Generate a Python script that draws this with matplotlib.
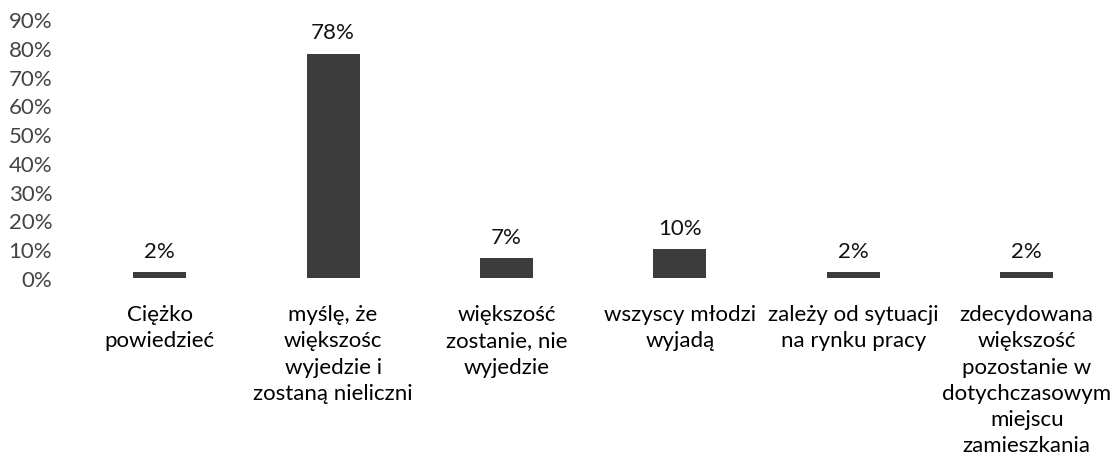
import numpy as np
import matplotlib
matplotlib.use("Agg")
import matplotlib.pyplot as plt
from matplotlib.ticker import FuncFormatter

# data
categories = [
    "Ciężko\npowiedzieć",
    "myślę, że\nwiększośc\nwyjedzie i\nzostaną nieliczni",
    "większość\nzostanie, nie\nwyjedzie",
    "wszyscy młodzi\nwyjadą",
    "zależy od sytuacji\nna rynku pracy",
    "zdecydowana\nwiększość\npozostanie w\ndotychczasowym\nmiejscu\nzamieszkania",
]
values = [2, 78, 7, 10, 2, 2]
value_labels = ["2%", "78%", "7%", "10%", "2%", "2%"]
yticks = list(range(0, 100, 10))

plt.rcParams['font.family'] = ['Lato', 'DejaVu Sans']
FS = 16

fig = plt.figure(figsize=(11.1, 4.56), dpi=100)
ax = fig.add_axes([73 / 1110, 177 / 456, 1037 / 1110, 259 / 456])

x = np.arange(len(categories))
bars = ax.bar(x, values, width=0.305, color="#3c3c3c")

for b, lab in zip(bars, value_labels):
    ax.annotate(lab, (b.get_x() + b.get_width() / 2, b.get_height()),
                xytext=(0, 8), textcoords="offset points",
                ha="center", va="bottom", fontsize=FS, color="#111111")

ax.set_ylim(0, 90)
ax.set_yticks(yticks)
ax.yaxis.set_major_formatter(FuncFormatter(lambda v, p: f"{int(v)}%"))
ax.set_xlim(-0.5, 5.48)
ax.set_xticks(x)
ax.set_xticklabels(categories, fontsize=FS, linespacing=1.38, va="top")

ax.tick_params(axis="x", length=0, pad=19)
ax.tick_params(axis="y", length=0, pad=15, labelsize=FS, labelcolor="#444444")
for s in ax.spines.values():
    s.set_visible(False)

fig.savefig("out.png", dpi=100)
